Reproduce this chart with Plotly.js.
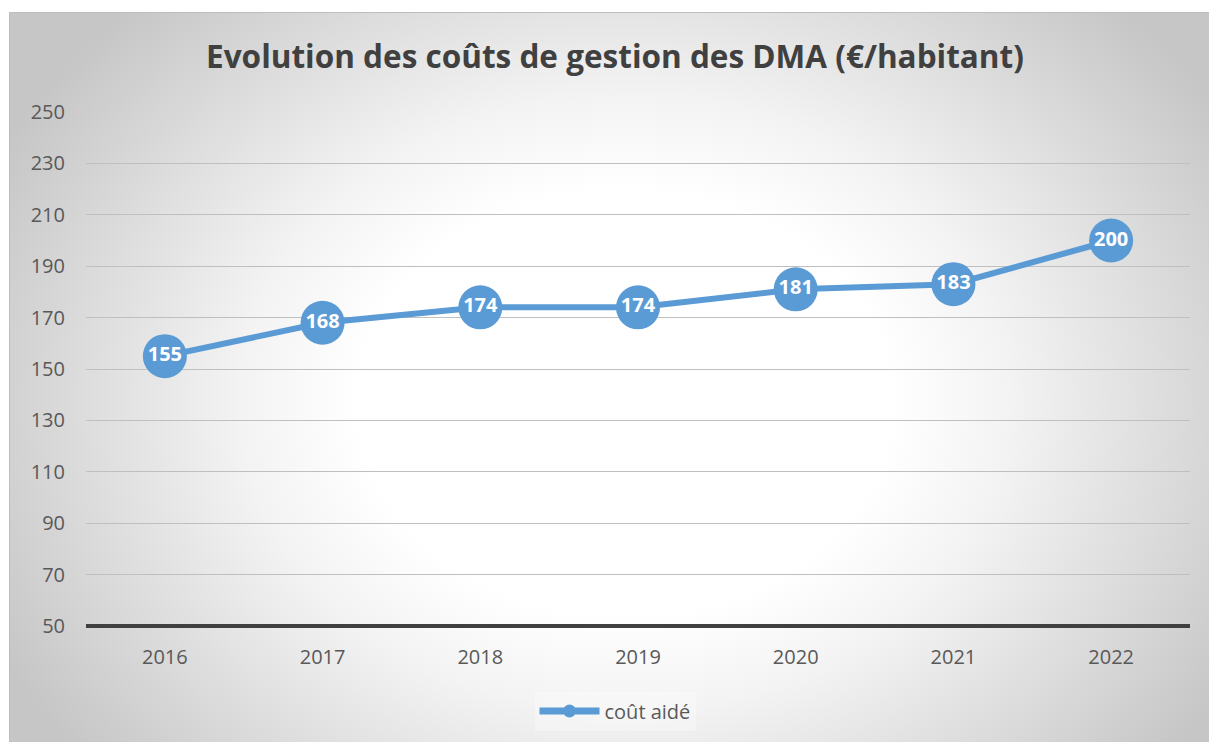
<!DOCTYPE html>
<html>
<head>
<meta charset="utf-8">
<script src="https://cdn.plot.ly/plotly-3.0.1.min.js"></script>
<style>
  html, body { margin: 0; padding: 0; background: #ffffff; }
  #wrap { position: relative; width: 1209px; height: 742px; overflow: hidden; }
  #frame {
    position: absolute; left: 9px; top: 12px; width: 1210px; height: 740px;
    box-sizing: border-box; border-top: 1px solid #bdbdbd; border-left: 1px solid #bdbdbd;
    background: radial-gradient(ellipse 700px 560px at 615px 390px, #ffffff 0%, #ffffff 38%, #f3f3f3 55%, #e2e2e2 72%, #d2d2d2 88%, #c6c6c6 100%);
  }
  #chart { position: absolute; left: 0; top: 0; width: 1209px; height: 742px; }
</style>
</head>
<body>
<div id="wrap">
  <div id="frame"></div>
  <div id="chart"></div>
</div>
<script>
const years = ['2016', '2017', '2018', '2019', '2020', '2021', '2022'];
const coutAide = [155, 168, 174, 174, 181, 183, 200];
const seriesName = 'coût aidé';
const yTicks = [50, 70, 90, 110, 130, 150, 170, 190, 210, 230, 250];
const chartTitle = 'Evolution des coûts de gestion des DMA (€/habitant)';

const blue = '#5b9bd5';
const font = '"Open Sans", "DejaVu Sans", sans-serif';

const traces = [
  {
    x: years, y: coutAide, type: 'scatter', mode: 'lines+markers+text',
    text: coutAide.map(String), textposition: 'middle center',
    textfont: { family: font, size: 20, color: '#ffffff', weight: 'bold' },
    line: { color: blue, width: 6 },
    marker: { color: blue, size: 44 },
    showlegend: false, hoverinfo: 'x+y', cliponaxis: false
  },
  {
    x: [null], y: [null], type: 'scatter', mode: 'lines+markers', name: seriesName,
    line: { color: blue, width: 7 }, marker: { color: blue, size: 13 },
    showlegend: true
  }
];

const layout = {
  width: 1209, height: 742,
  paper_bgcolor: 'rgba(0,0,0,0)', plot_bgcolor: 'rgba(0,0,0,0)',
  margin: { l: 86, r: 19, t: 112, b: 116 },
  title: {
    text: chartTitle, x: 615 / 1209, xanchor: 'center', xref: 'container',
    y: 1 - 57 / 742, yanchor: 'middle', yref: 'container',
    font: { family: font, size: 31.5, color: '#404040', weight: 'bold' }
  },
  xaxis: {
    type: 'category', range: [-0.5, 6.5], showgrid: false, zeroline: false,
    showline: false, ticks: '', tickfont: { family: font, size: 20, color: '#595959' },
    ticklabelstandoff: 17, fixedrange: true
  },
  yaxis: {
    range: [50, 250], tickvals: yTicks, ticktext: yTicks.map(String),
    showgrid: true, gridcolor: '#bfbfbf', gridwidth: 1,
    zeroline: false, showline: false, ticks: '',
    tickfont: { family: font, size: 20, color: '#595959' },
    ticklabelstandoff: 20, fixedrange: true
  },
  shapes: [
    { type: 'line', xref: 'paper', yref: 'paper', x0: 0, x1: 1, y0: 0, y1: 0,
      line: { color: '#404040', width: 4 }, layer: 'above' }
  ],
  legend: {
    orientation: 'h', x: 615 / 1209, xanchor: 'center', xref: 'container',
    y: 1 - 711 / 742, yanchor: 'middle', yref: 'container',
    bgcolor: 'rgba(255,255,255,0.3)', itemwidth: 60,
    font: { family: font, size: 20, color: '#595959' }
  },
  showlegend: true
};

Plotly.newPlot('chart', traces, layout, { displayModeBar: false, staticPlot: true });
</script>
</body>
</html>
